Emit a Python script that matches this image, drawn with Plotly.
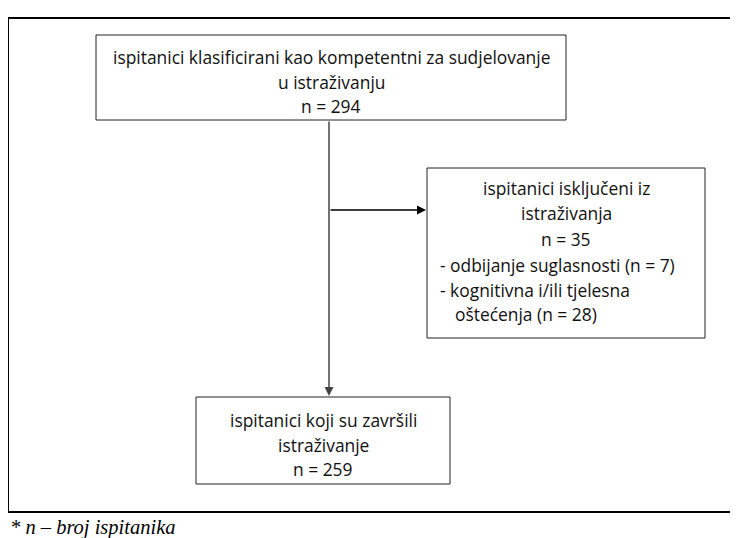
import plotly.graph_objects as go

# box texts and counts
total_label = ["ispitanici klasificirani kao kompetentni za sudjelovanje", "u istraživanju"]
total_n = 294
excluded_label = ["ispitanici isključeni iz", "istraživanja"]
excluded_n = 35
excluded_reasons = ["- odbijanje suglasnosti", "- kognitivna i/ili tjelesna"]
excluded_reason_n = [7, 28]
completed_label = ["ispitanici koji su završili", "istraživanje"]
completed_n = 259
footnote = "* n – broj ispitanika"

# the page body has an 8px margin, so the figure is 8px smaller on each side
W, H = 738, 538
OFF = 8
FONT = "Open Sans"
FS = 17.4

fig = go.Figure()
shapes = []
annotations = []


def box(x0, y0, x1, y1, width=1, color="#222"):
    shapes.append(dict(type="rect", x0=x0, y0=y0, x1=x1, y1=y1, xref="x", yref="y",
                       line=dict(color=color, width=width), fillcolor="rgba(0,0,0,0)"))


def text(x, y, s, anchor="center", size=FS, font=FONT, color="#111"):
    annotations.append(dict(x=x, y=y, xref="x", yref="y", text=s, showarrow=False,
                            xanchor=anchor, yanchor="middle",
                            font=dict(family=font, size=size, color=color)))


# outer frame
box(8, 18, 736, 512, width=2, color="black")

# top box
box(96, 35, 566, 120)
text(331, 57, total_label[0])
text(331, 82, total_label[1])
text(331, 106, f"n = {total_n}")

# right box
box(427, 168, 705, 338)
text(566, 188, excluded_label[0])
text(566, 213, excluded_label[1])
text(566, 239, f"n = {excluded_n}")
text(438, 265, f"{excluded_reasons[0]} (n = {excluded_reason_n[0]})", anchor="left")
text(438, 290, excluded_reasons[1], anchor="left")
text(453, 314, f"oštećenja (n = {excluded_reason_n[1]})", anchor="left")

# bottom box
box(196, 397, 450, 484)
text(323, 420, completed_label[0])
text(323, 445, completed_label[1])
text(323, 469, f"n = {completed_n}")

# vertical arrow
annotations.append(dict(x=329, y=396, ax=329, ay=120, xref="x", yref="y", axref="x", ayref="y",
                        showarrow=True, arrowhead=2, arrowsize=1.2, arrowwidth=1.5,
                        arrowcolor="#444", text=""))
# horizontal arrow
annotations.append(dict(x=426, y=210, ax=329, ay=210, xref="x", yref="y", axref="x", ayref="y",
                        showarrow=True, arrowhead=2, arrowsize=1.2, arrowwidth=1.5,
                        arrowcolor="black", text=""))

# footnote
text(OFF, 527, f"<i>{footnote}</i>", anchor="left", size=20.5, font="Liberation Serif", color="black")

fig.update_layout(
    width=W - OFF, height=H - OFF,
    margin=dict(l=0, r=0, t=0, b=0),
    paper_bgcolor="white", plot_bgcolor="white",
    xaxis=dict(range=[OFF, W], visible=False, fixedrange=True),
    yaxis=dict(range=[H, OFF], visible=False, fixedrange=True),
    shapes=shapes, annotations=annotations, showlegend=False,
)
fig.write_html("out.html")
